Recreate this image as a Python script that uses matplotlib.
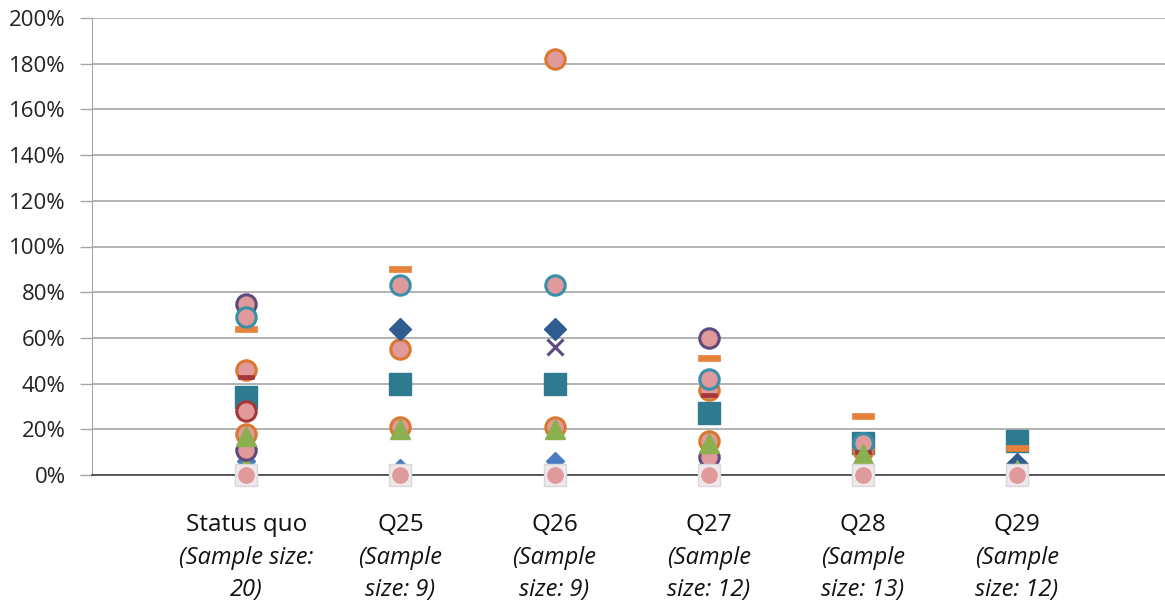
import numpy as np
import matplotlib
matplotlib.use("Agg")
import matplotlib.pyplot as plt
from matplotlib.path import Path

nan = np.nan
categories = ["Status quo", "Q25", "Q26", "Q27", "Q28", "Q29"]
sublabel1 = ["(Sample size:", "(Sample", "(Sample", "(Sample", "(Sample", "(Sample"]
sublabel2 = ["20)", "size: 9)", "size: 9)", "size: 12)", "size: 13)", "size: 12)"]

# values in percent, one per category (nan = no point)
blue_diamond    = [6, 3, 6, 5, nan, nan]
teal_square     = [34, 40, 40, 27, 14, 15]
orange_dash     = [64, 90, nan, 51, 26, 12]
purple_circle   = [75, nan, nan, 60, nan, nan]
purple_circle2  = [11, nan, nan, 8, nan, nan]
orange_circle   = [46, 55, 182, 37, 11, nan]
orange_circle2  = [18, 21, 21, 15, nan, 3]
teal_circle     = [69, 83, 83, 42, 14, nan]
darkred_circle  = [28, nan, nan, nan, nan, nan]
darkred_dash    = [43, nan, nan, 35, 10, nan]
navy_diamond    = [nan, 64, 64, nan, nan, 5]
purple_x        = [nan, nan, 56, nan, nan, nan]
green_triangle  = [17, 20, 20, 14, 9, 2]
green_triangle2 = [5, nan, nan, nan, nan, nan]
gray_square     = [0, 0, 0, 0, 0, 0]
pink_circle     = [0, 0, 0, 0, 0, 0]

plt.rcParams['font.family'] = ['Open Sans', 'DejaVu Sans']

fig = plt.figure(figsize=(11.65, 6.05), dpi=100)
ax = fig.add_axes([92/1165, 130/605, 1 - 92/1165, 457/605])

x = np.arange(1, len(categories) + 1)

dash = Path([(-1, -0.28), (1, -0.28), (1, 0.28), (-1, 0.28), (-1, -0.28)],
            [Path.MOVETO, Path.LINETO, Path.LINETO, Path.LINETO, Path.CLOSEPOLY])

pink = "#E09A9B"
def plot(vals, **kw):
    ax.plot(x, vals, linestyle='none', clip_on=False, **kw)

plot(blue_diamond, marker='D', ms=9, mfc="#4A7CC0", mec="#4A7CC0", zorder=3)
plot(teal_square, marker='s', ms=15.5, mfc="#2E7B90", mec="#2E7B90", zorder=3)
plot(orange_dash, marker=dash, ms=16, mfc="#E8823A", mec="#E8823A", mew=0.5, zorder=3)
plot(green_triangle2, marker='^', ms=12, mfc="#8AB04F", mec="#8AB04F", zorder=3)
plot(purple_circle, marker='o', ms=14, mfc=pink, mec="#5E4A7E", mew=2.2, zorder=4)
plot(purple_circle2, marker='o', ms=14, mfc=pink, mec="#5E4A7E", mew=2.2, zorder=4)
plot(orange_circle, marker='o', ms=14, mfc=pink, mec="#D9782E", mew=2.2, zorder=4)
plot(orange_circle2, marker='o', ms=14, mfc=pink, mec="#D9782E", mew=2.2, zorder=4)
plot(teal_circle, marker='o', ms=14, mfc=pink, mec="#3A8FA8", mew=2.2, zorder=4)
plot(darkred_circle, marker='o', ms=14, mfc=pink, mec="#A5373A", mew=2.2, zorder=4)
plot(darkred_dash, marker=dash, ms=11, mfc="#A5373A", mec="#A5373A", mew=0.5, zorder=5)
plot(navy_diamond, marker='D', ms=11, mfc="#2F5D92", mec="#2F5D92", zorder=5)
plot(purple_x, marker='x', ms=12, mec="#5E4A7E", mew=2.2, zorder=5)
plot(green_triangle, marker='^', ms=15, mfc="#8AB04F", mec="#8AB04F", zorder=6)
plot(gray_square, marker='s', ms=16, mfc="#EEE8EC", mec="#D8D8D8", mew=1, zorder=7)
plot(pink_circle, marker='o', ms=11, mfc=pink, mec=pink, zorder=8)

ax.set_xlim(0, 6.96)
ax.set_ylim(0, 200)
ax.set_yticks(np.arange(0, 201, 20))
ax.set_yticklabels([f"{v}%" for v in range(0, 201, 20)], fontsize=16, color="#222222")
ax.set_xticks([])
ax.grid(axis='y', color="#A6A6A6", linewidth=1.2)
ax.set_axisbelow(True)
ax.tick_params(axis='y', length=9, width=1, color="#A6A6A6", pad=10)
for s in ['top', 'right']:
    ax.spines[s].set_visible(False)
ax.spines['left'].set_color("#A6A6A6")
ax.spines['bottom'].set_color("#404040")
ax.spines['bottom'].set_linewidth(1.2)
ax.spines['bottom'].set_zorder(2.5)

tr = ax.get_xaxis_transform()
for xi, c, s1, s2 in zip(x, categories, sublabel1, sublabel2):
    ax.text(xi, -50/457, c, transform=tr, ha='center', va='center', fontsize=17.5, color="#111111")
    ax.text(xi, -83/457, s1, transform=tr, ha='center', va='center', fontsize=17, style='italic', color="#111111")
    ax.text(xi, -115/457, s2, transform=tr, ha='center', va='center', fontsize=17, style='italic', color="#111111")

fig.savefig("out.png", dpi=100)
